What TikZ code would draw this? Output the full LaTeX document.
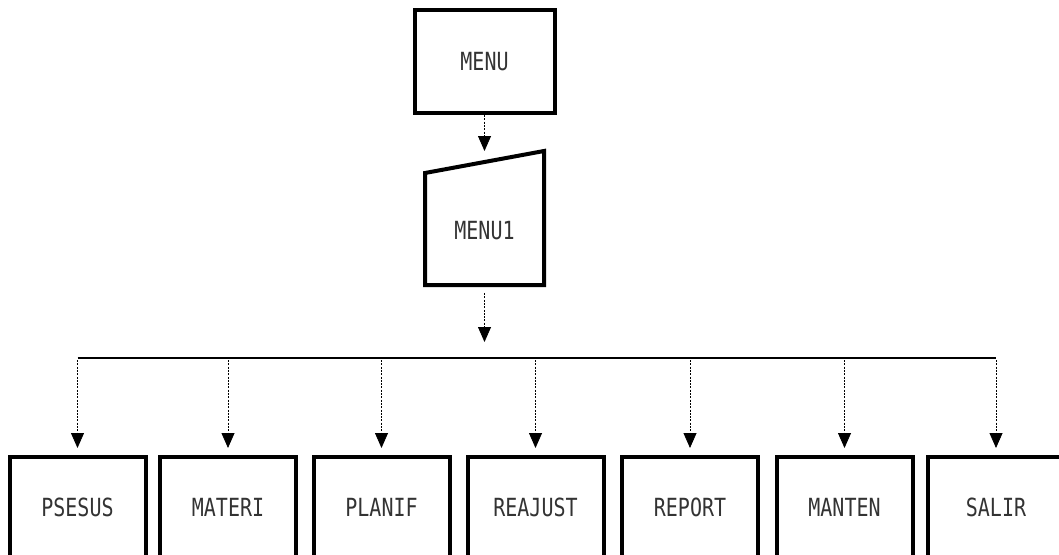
\documentclass[tikz,border=0pt]{standalone}
\usepackage{fontspec}
\newfontfamily\dotfont[FakeStretch=0.80]{DejaVu Sans Mono}
\usetikzlibrary{arrows.meta,calc}
\begin{document}
\begin{tikzpicture}[x=1pt,y=-1pt,
  box/.style={draw, line width=4pt, minimum width=136pt, minimum height=100pt, inner sep=0pt,
    font=\dotfont\fontsize{25}{25}\selectfont, text=black!80, text height=18pt, text depth=0pt},
  link/.style={line width=0.8pt, dash pattern=on 2pt off 1.3pt, -{Triangle[width=13pt,length=15pt]}},
  busline/.style={line width=2pt}]
\useasboundingbox (0,0) rectangle (1059,554);
\clip (0,0) rectangle (1059,554);
% top menu
\node[box, minimum width=140pt, minimum height=103pt] (menu) at (484.5,61.5) {MENU};
% manual input shape
\node[box, draw=none, minimum width=115pt, minimum height=130pt] (menu1) at (484.5,218) {\raisebox{-12pt}{MENU1}};
\draw[line width=4pt, line join=miter]
  (menu1.south west) -- (menu1.south east) -- (menu1.north east) -- ($(menu1.north west)+(0,22)$) -- cycle;
\draw[link] (menu.south) -- (menu1.north);
\coordinate (busc) at (484.5,358);
\draw[link, shorten <=8pt, shorten >=16pt] (menu1.south) -- (busc);
% bottom boxes
\node[box] (b1) at (77.5,507) {PSESUS};
\node[box] (b2) at (228,507) {MATERI};
\node[box] (b3) at (381.5,507) {PLANIF};
\node[box] (b4) at (535.5,507) {REAJUST};
\node[box] (b5) at (690,507) {REPORT};
\node[box] (b6) at (844.5,507) {MANTEN};
\node[box] (b7) at (996,507) {SALIR};
\draw[busline] (b1.north |- busc) -- (b7.north |- busc);
\foreach \b in {b1,b2,b3,b4,b5,b6,b7}
  \draw[link, shorten <=2pt, shorten >=7pt] (\b.north |- busc) -- (\b.north);
\end{tikzpicture}
\end{document}
